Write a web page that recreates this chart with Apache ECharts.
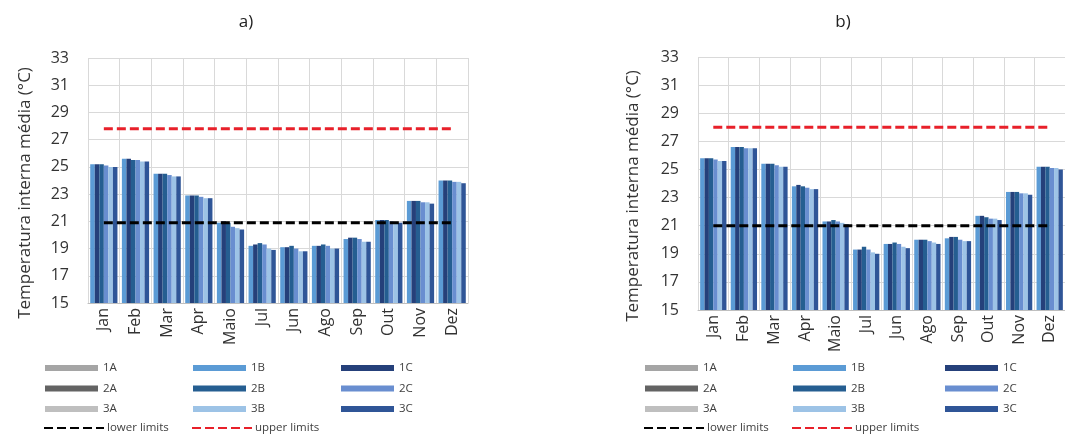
<!DOCTYPE html>
<html>
<head>
<meta charset="utf-8">
<script src="https://cdn.jsdelivr.net/npm/echarts@6/dist/echarts.min.js"></script>
<style>
  html, body { margin: 0; padding: 0; background: #fff; }
  #chart { width: 1065px; height: 436px; }
</style>
</head>
<body>
<div id="chart"></div>
<script>
// Months on the category axis
const months = ['Jan', 'Feb', 'Mar', 'Apr', 'Maio', 'Jul', 'Jun', 'Ago', 'Sep', 'Out', 'Nov', 'Dez'];

// Panel a) mean indoor temperature (°C)
const a1B = [25.2, 25.6, 24.5, 22.9, 20.9, 19.2, 19.1, 19.2, 19.7, 21.1, 22.5, 24.0];
const a1C = [25.2, 25.6, 24.5, 22.9, 21.0, 19.3, 19.1, 19.2, 19.8, 21.1, 22.5, 24.0];
const a2B = [25.2, 25.5, 24.5, 22.9, 20.9, 19.4, 19.2, 19.3, 19.8, 21.1, 22.5, 24.0];
const a2C = [25.1, 25.5, 24.4, 22.8, 20.6, 19.3, 19.0, 19.2, 19.7, 21.0, 22.4, 23.9];
const a3B = [25.0, 25.4, 24.3, 22.7, 20.5, 19.0, 18.8, 19.0, 19.5, 20.9, 22.4, 23.9];
const a3C = [25.0, 25.4, 24.3, 22.7, 20.4, 18.9, 18.8, 19.0, 19.5, 20.9, 22.3, 23.8];
const aLower = [20.9, 20.9, 20.9, 20.9, 20.9, 20.9, 20.9, 20.9, 20.9, 20.9, 20.9, 20.9];
const aUpper = [27.8, 27.8, 27.8, 27.8, 27.8, 27.8, 27.8, 27.8, 27.8, 27.8, 27.8, 27.8];

// Panel b) mean indoor temperature (°C)
const b1B = [25.8, 26.6, 25.4, 23.8, 21.3, 19.3, 19.7, 20.0, 20.1, 21.7, 23.4, 25.2];
const b1C = [25.8, 26.6, 25.4, 23.9, 21.3, 19.3, 19.7, 20.0, 20.2, 21.7, 23.4, 25.2];
const b2B = [25.8, 26.6, 25.4, 23.8, 21.4, 19.5, 19.8, 20.0, 20.2, 21.6, 23.4, 25.2];
const b2C = [25.7, 26.5, 25.3, 23.7, 21.3, 19.3, 19.7, 19.9, 20.0, 21.5, 23.3, 25.1];
const b3B = [25.6, 26.5, 25.2, 23.6, 21.2, 19.1, 19.5, 19.8, 19.9, 21.5, 23.3, 25.1];
const b3C = [25.6, 26.5, 25.2, 23.6, 21.1, 19.0, 19.4, 19.7, 19.9, 21.4, 23.2, 25.0];
const bLower = [21.0, 21.0, 21.0, 21.0, 21.0, 21.0, 21.0, 21.0, 21.0, 21.0, 21.0, 21.0];
const bUpper = [28.0, 28.0, 28.0, 28.0, 28.0, 28.0, 28.0, 28.0, 28.0, 28.0, 28.0, 28.0];

// Configurations A have no plotted values
const cfg1A = [];
const cfg2A = [];
const cfg3A = [];

const yMin = 15, yMax = 33, yStep = 2;

const colors = {
  '1A': '#a5a5a5', '1B': '#5b9bd5', '1C': '#25407a',
  '2A': '#636363', '2B': '#255e91', '2C': '#698ed0',
  '3A': '#bfbfbf', '3B': '#9dc3e6', '3C': '#2f5597'
};

const FONT = '"Open Sans", "DejaVu Sans", sans-serif';
const TXT = '#333333';
const GRIDC = '#d9d9d9';

function barSeries(name, data, idx) {
  return {
    type: 'bar', name, data,
    xAxisIndex: idx, yAxisIndex: idx,
    barGap: '0%', barCategoryGap: '14%',
    itemStyle: { color: colors[name] },
    emphasis: { disabled: true },
    silent: true
  };
}
function limitSeries(name, data, idx, color) {
  return {
    type: 'line', name, data,
    xAxisIndex: idx, yAxisIndex: idx,
    symbol: 'none', showSymbol: false,
    lineStyle: { color, width: 3, type: [9, 4] },
    itemStyle: { color },
    z: 5, silent: true
  };
}
function legendOnly(name, data) {
  return {
    type: 'line', name, data,
    xAxisIndex: 0, yAxisIndex: 0,
    symbol: 'none',
    itemStyle: { color: colors[name] },
    lineStyle: { color: colors[name] }
  };
}

function xAxis(idx) {
  return {
    type: 'category', gridIndex: idx, data: months,
    axisLine: { show: true, lineStyle: { color: '#bfbfbf', width: 1 } },
    axisTick: { show: false },
    axisLabel: { rotate: 90, fontSize: 16, color: TXT, fontFamily: FONT, margin: 5 },
    splitLine: { show: true, lineStyle: { color: GRIDC, width: 1 } }
  };
}
function yAxis(idx, gap) {
  return {
    type: 'value', gridIndex: idx, min: yMin, max: yMax, interval: yStep,
    name: 'Temperatura interna média (°C)', nameLocation: 'middle', nameGap: gap,
    nameTextStyle: { fontSize: 17, color: TXT, fontFamily: FONT, padding: [0, 25, 0, 0] },
    axisLine: { show: false }, axisTick: { show: false },
    axisLabel: { fontSize: 16, color: TXT, fontFamily: FONT, margin: 19 },
    splitLine: { show: true, lineStyle: { color: GRIDC, width: 1 } }
  };
}

function columnLegend(names, left) {
  return {
    data: names, orient: 'vertical', left, top: 356,
    icon: 'rect', itemWidth: 53, itemHeight: 6, itemGap: 6.5,
    selectedMode: false,
    textStyle: { fontSize: 11.5, color: '#404040', fontFamily: FONT, lineHeight: 14, padding: [0, 0, 0, 0] }
  };
}
function lineLegend(name, left) {
  return {
    data: [name], left, top: 417,
    itemWidth: 60, itemHeight: 12, itemGap: 0,
    selectedMode: false,
    itemStyle: { color: 'rgba(0,0,0,0)', borderWidth: 0, opacity: 0 },
    textStyle: { fontSize: 11.5, color: '#404040', fontFamily: FONT, padding: [0, 0, 0, -2] }
  };
}

const chart = echarts.init(document.getElementById('chart'), null, { renderer: 'canvas' });
chart.setOption({
  animation: false,
  backgroundColor: '#ffffff',
  textStyle: { fontFamily: FONT },
  title: [
    { text: 'a)', left: 241, top: 9, textAlign: 'center', textStyle: { fontSize: 17, fontWeight: 'normal', color: '#222', fontFamily: FONT } },
    { text: 'b)', left: 838, top: 9, textAlign: 'center', textStyle: { fontSize: 17, fontWeight: 'normal', color: '#222', fontFamily: FONT } }
  ],
  grid: [
    { left: 88, top: 58, width: 380, height: 245 },
    { left: 698, top: 57, width: 370, height: 253 }
  ],
  xAxis: [xAxis(0), xAxis(1)],
  yAxis: [yAxis(0, 54), yAxis(1, 56)],
  legend: [
    columnLegend(['1A', '2A', '3A'], 40),
    columnLegend(['1B', '2B', '3B'], 188),
    columnLegend(['1C', '2C', '3C'], 336),
    lineLegend('lower limits', 38),
    lineLegend('upper limits', 186),
    columnLegend(['1A', '2A', '3A'], 640),
    columnLegend(['1B', '2B', '3B'], 788),
    columnLegend(['1C', '2C', '3C'], 940),
    lineLegend('lower limits', 638),
    lineLegend('upper limits', 786)
  ],
  series: [
    legendOnly('1A', cfg1A), legendOnly('2A', cfg2A), legendOnly('3A', cfg3A),
    barSeries('1B', a1B, 0), barSeries('1C', a1C, 0), barSeries('2B', a2B, 0),
    barSeries('2C', a2C, 0), barSeries('3B', a3B, 0), barSeries('3C', a3C, 0),
    limitSeries('lower limits', aLower, 0, '#000000'),
    limitSeries('upper limits', aUpper, 0, '#e8202a'),
    barSeries('1B', b1B, 1), barSeries('1C', b1C, 1), barSeries('2B', b2B, 1),
    barSeries('2C', b2C, 1), barSeries('3B', b3B, 1), barSeries('3C', b3C, 1),
    limitSeries('lower limits', bLower, 1, '#000000'),
    limitSeries('upper limits', bUpper, 1, '#e8202a')
  ]
});
</script>
</body>
</html>
